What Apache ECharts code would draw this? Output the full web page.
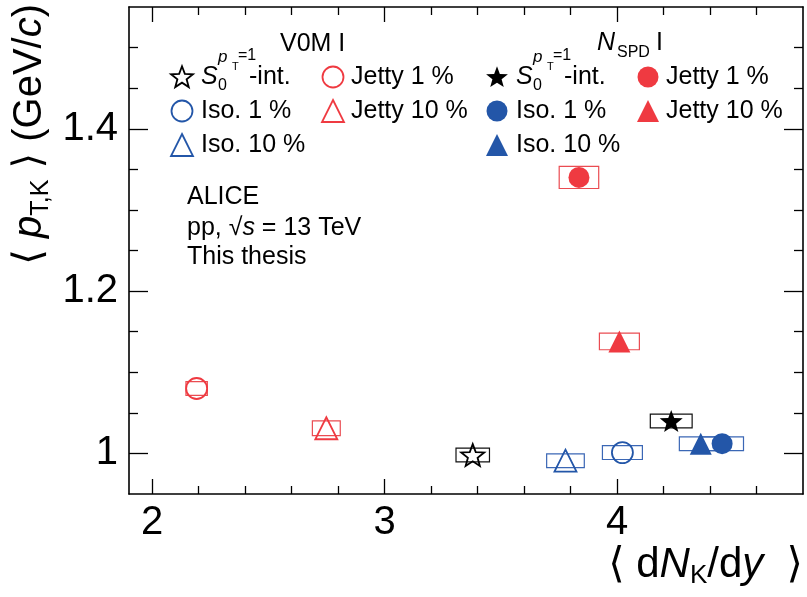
<!DOCTYPE html>
<html>
<head>
<meta charset="utf-8">
<script src="https://cdn.jsdelivr.net/npm/echarts@6/dist/echarts.min.js"></script>
<style>
  html, body { margin: 0; padding: 0; background: #fff; }
  #chart { width: 807px; height: 597px; }
</style>
</head>
<body>
<div id="chart"></div>
<script>
// Mean kaon pT versus kaon yield for S0-selected event classes, pp at 13 TeV.
// Class order: S0 (pT=1) integrated, Iso. 1 %, Iso. 10 %, Jetty 1 %, Jetty 10 %
const classNames = ['S0 integrated', 'Iso. 1 %', 'Iso. 10 %', 'Jetty 1 %', 'Jetty 10 %'];

// V0M-based multiplicity selection (open markers)
const v0mDNdy      = [3.379, 4.023, 3.778, 2.191, 2.749];
const v0mMeanPt    = [0.998, 1.001, 0.991, 1.080, 1.031];
const v0mDNdySys   = [0.072, 0.086, 0.081, 0.046, 0.060];
const v0mMeanPtSys = [0.0085, 0.0085, 0.0085, 0.0085, 0.0090];

// N_SPD-based multiplicity selection (filled markers)
const nspdDNdy      = [4.233, 4.452, 4.360, 3.836, 4.010];
const nspdMeanPt    = [1.040, 1.012, 1.012, 1.340, 1.138];
const nspdDNdySys   = [0.090, 0.092, 0.092, 0.085, 0.086];
const nspdMeanPtSys = [0.0085, 0.0085, 0.0085, 0.0136, 0.0103];

// Axis ticks
const xMajorTicks = [2, 3, 4];
const xMinorTicks = [2.2, 2.4, 2.6, 2.8, 3.2, 3.4, 3.6, 3.8, 4.2, 4.4, 4.6];
const yMajorTicks = [1.0, 1.2, 1.4];
const yMinorTicks = [1.05, 1.1, 1.15, 1.25, 1.3, 1.35, 1.45, 1.5];

const FONT = '"Liberation Sans", Arial, "DejaVu Sans", sans-serif';
const RED = '#EF3A41';
const BLUE = '#2356A8';
const BLACK = '#000000';
const classColors = [BLACK, BLUE, BLUE, RED, RED];
const boxColors = ['#111111', '#3B67B5', '#3B67B5', '#EA4C52', '#EA4C52'];
const classShapes = ['star', 'circle', 'triangle', 'circle', 'triangle'];

function starPoints(cx, cy, R, ratio) {
  const pts = [];
  for (let i = 0; i < 10; i++) {
    const a = -Math.PI / 2 + i * Math.PI / 5;
    const r = i % 2 ? R * ratio : R;
    pts.push([cx + r * Math.cos(a), cy + r * Math.sin(a)]);
  }
  return pts;
}
const STAR_RATIO = 0.42;
const starSymbol = 'path://' + starPoints(0, 0, 1, STAR_RATIO)
  .map((p, i) => (i ? 'L' : 'M') + p[0].toFixed(4) + ',' + p[1].toFixed(4)).join('') + 'Z';

function symbolOf(shape) {
  return shape === 'star' ? starSymbol : shape;
}
function sizeOf(shape) {
  return shape === 'star' ? 23 : (shape === 'circle' ? 21 : 22);
}

// Systematic-uncertainty boxes
function boxSeries(name, x, y, ex, ey, color) {
  return {
    name: name + ' syst.',
    type: 'custom',
    xAxisIndex: 0, yAxisIndex: 0,
    z: 2, silent: true,
    data: [[x, y, ex, ey]],
    renderItem: function (params, api) {
      const vx = api.value(0), vy = api.value(1), dx = api.value(2), dy = api.value(3);
      const p0 = api.coord([vx - dx, vy + dy]);
      const p1 = api.coord([vx + dx, vy - dy]);
      return {
        type: 'rect',
        shape: { x: p0[0], y: p0[1], width: p1[0] - p0[0], height: p1[1] - p0[1] },
        style: { fill: 'none', stroke: color, lineWidth: 1.2 }
      };
    }
  };
}

function pointSeries(name, x, y, shape, color, filled) {
  return {
    name: name,
    type: 'scatter',
    xAxisIndex: 0, yAxisIndex: 0,
    z: 5, silent: true,
    symbol: symbolOf(shape),
    symbolKeepAspect: true,
    symbolSize: sizeOf(shape),
    data: [[x, y]],
    itemStyle: filled
      ? { color: color, borderWidth: 0, opacity: 1 }
      : { color: 'rgba(0,0,0,0)', borderColor: color, borderWidth: 1.8, opacity: 1 },
    emphasis: { disabled: true }
  };
}

const series = [];
for (let i = 0; i < classNames.length; i++) {
  series.push(boxSeries('V0M ' + classNames[i], v0mDNdy[i], v0mMeanPt[i], v0mDNdySys[i], v0mMeanPtSys[i], boxColors[i]));
  series.push(boxSeries('NSPD ' + classNames[i], nspdDNdy[i], nspdMeanPt[i], nspdDNdySys[i], nspdMeanPtSys[i], boxColors[i]));
}
for (let i = 0; i < classNames.length; i++) {
  series.push(pointSeries('V0M ' + classNames[i], v0mDNdy[i], v0mMeanPt[i], classShapes[i], classColors[i], false));
  series.push(pointSeries('NSPD ' + classNames[i], nspdDNdy[i], nspdMeanPt[i], classShapes[i], classColors[i], true));
}

// Frame axes: major and minor ticks on all four sides, pointing inward
function xAxisDef(position, ticks, len, showLine, showLabel) {
  return {
    type: 'value', min: 1.9, max: 4.8, position: position,
    axisLine: { show: showLine, onZero: false, lineStyle: { color: '#000', width: 1.6 } },
    axisTick: { show: true, inside: true, length: len, customValues: ticks, lineStyle: { color: '#000', width: 1.3 } },
    axisLabel: { show: showLabel, customValues: ticks, margin: 9, color: '#000', fontSize: 40, fontFamily: FONT },
    splitLine: { show: false }
  };
}
function yAxisDef(position, ticks, len, showLine, showLabel) {
  return {
    type: 'value', min: 0.95, max: 1.55, position: position,
    axisLine: { show: showLine, onZero: false, lineStyle: { color: '#000', width: 1.6 } },
    axisTick: { show: true, inside: true, length: len, customValues: ticks, lineStyle: { color: '#000', width: 1.3 } },
    axisLabel: { show: showLabel, customValues: ticks, margin: 11, color: '#000', fontSize: 40, fontFamily: FONT },
    splitLine: { show: false }
  };
}

// Legend drawn as graphics
function legendMarker(shape, filled, color, cx, cy) {
  const style = filled
    ? { fill: color, stroke: 'none' }
    : { fill: 'none', stroke: color, lineWidth: 1.8 };
  if (shape === 'circle') {
    return { type: 'circle', shape: { cx: cx, cy: cy, r: 10.5 }, style: style, silent: true };
  }
  if (shape === 'triangle') {
    return { type: 'polygon', shape: { points: [[cx, cy - 11], [cx + 11, cy + 11], [cx - 11, cy + 11]] }, style: style, silent: true };
  }
  return { type: 'polygon', shape: { points: starPoints(cx, cy + 0.8, 11.5, STAR_RATIO) }, style: style, silent: true };
}

function txt(text, x, y, size, opts) {
  opts = opts || {};
  return {
    type: 'text', silent: true,
    x: x, y: y,
    rotation: opts.rotation || 0,
    style: {
      text: text, x: 0, y: 0,
      font: (opts.italic ? 'italic ' : '') + size + 'px ' + FONT,
      fill: '#000',
      align: opts.align || 'left', textAlign: opts.align || 'left',
      verticalAlign: 'middle', textVerticalAlign: 'middle',
      rich: opts.rich
    }
  };
}

function s0Label(x0, y) {
  return [
    txt('S', x0, y, 25, { italic: true }),
    txt('0', x0 + 17, y + 9, 16),
    txt('p', x0 + 17, y - 20, 17, { italic: true }),
    txt('T', x0 + 31, y - 10, 11),
    txt('=1', x0 + 37, y - 21, 16),
    txt('-int.', x0 + 48, y, 25)
  ];
}

const legendRowY = [77, 111, 145];
// [class index, row, column]
const legendSlots = [[0, 0, 0], [3, 0, 1], [1, 1, 0], [4, 1, 1], [2, 2, 0]];

function legendBlock(x0, filled) {
  const colMarker = [x0, x0 + 151];
  const colText = [x0 + 19, x0 + 169];
  const els = [];
  legendSlots.forEach(function (s) {
    const i = s[0], y = legendRowY[s[1]], c = s[2];
    els.push(legendMarker(classShapes[i], filled, classColors[i], colMarker[c], y));
    if (i === 0) {
      s0Label(colText[c], y).forEach(function (e) { els.push(e); });
    } else {
      els.push(txt(classNames[i], colText[c], y, 25));
    }
  });
  return els;
}

function titleRich(size) {
  return {
    n: { fontSize: size, fontFamily: FONT, lineHeight: 48, verticalAlign: 'middle', fill: '#000' },
    it: { fontSize: size, fontFamily: FONT, fontStyle: 'italic', lineHeight: 48, verticalAlign: 'middle', fill: '#000' },
    sub: { fontSize: Math.round(size * 0.62), fontFamily: FONT, lineHeight: 20, verticalAlign: 'bottom', fill: '#000' }
  };
}

const graphics = []
  .concat(legendBlock(182, false))
  .concat(legendBlock(497, true))
  .concat([
    txt('V0M I', 280, 44, 25),
    txt('N', 597, 43, 25, { italic: true }),
    txt('SPD', 617, 53, 16),
    txt('I', 656, 43, 25),
    txt('ALICE', 187, 197, 25),
    txt('{n|pp, \u221A}{it|s}{n| = 13 TeV}', 187, 228, 25, {
      rich: {
        n: { fontSize: 25, fontFamily: FONT, fill: '#000', verticalAlign: 'middle' },
        it: { fontSize: 25, fontFamily: FONT, fontStyle: 'italic', fill: '#000', verticalAlign: 'middle' }
      }
    }),
    txt('This thesis', 187, 257, 25),
    // y-axis title (rotated)
    txt('{n|\u27E8 }{it|p}{sub|T,K}{n| \u27E9 (GeV/}{it|c}{n|)}', 30, 4, 40, {
      rotation: Math.PI / 2, align: 'right', rich: titleRich(40)
    }),
    // x-axis title
    txt('{n|\u27E8 d}{it|N}{sub|K}{n|/d}{it|y}{n|  \u27E9}', 803, 565, 42, {
      align: 'right', rich: titleRich(42)
    })
  ]);

const chart = echarts.init(document.getElementById('chart'), null, { renderer: 'canvas' });
chart.setOption({
  animation: false,
  backgroundColor: '#ffffff',
  grid: { left: 129, right: 4, top: 7, bottom: 103, containLabel: false, outerBoundsMode: 'none' },
  xAxis: [
    xAxisDef('bottom', xMajorTicks, 15, true, true),
    xAxisDef('bottom', xMinorTicks, 8, false, false),
    xAxisDef('top', xMajorTicks, 15, true, false),
    xAxisDef('top', xMinorTicks, 8, false, false)
  ],
  yAxis: [
    yAxisDef('left', yMajorTicks, 19, true, true),
    yAxisDef('left', yMinorTicks, 9, false, false),
    yAxisDef('right', yMajorTicks, 19, true, false),
    yAxisDef('right', yMinorTicks, 9, false, false)
  ],
  series: series,
  graphic: { elements: graphics }
});
</script>
</body>
</html>
